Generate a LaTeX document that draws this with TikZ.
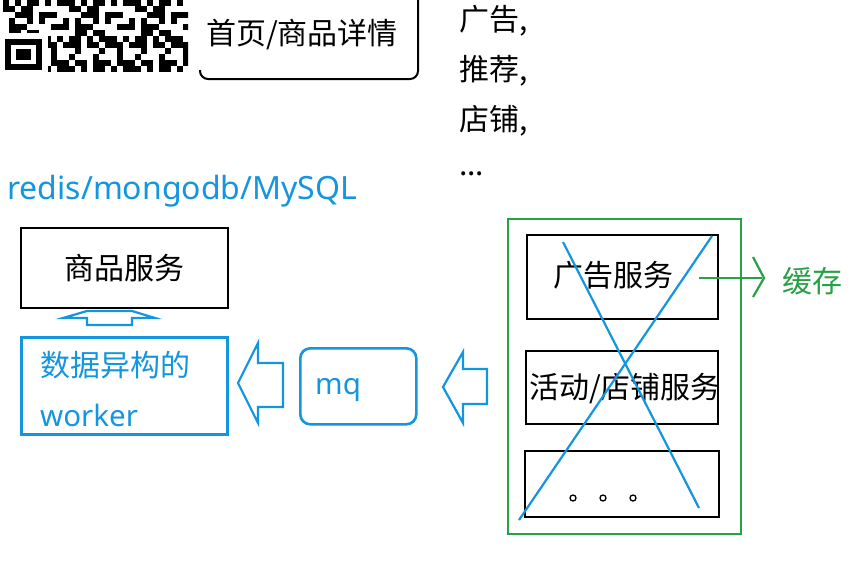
\documentclass[tikz,border=0pt]{standalone}
\usepackage{fontspec}
\setmainfont{Noto Sans CJK SC}
\newfontfamily\latinf{Noto Sans}
\definecolor{myblue}{RGB}{20,150,222}
\definecolor{mygreen}{RGB}{40,160,70}
\tikzset{
  txt/.style={font=\fontsize{30}{34}\selectfont, inner sep=0pt},
  ltxt/.style={font=\fontsize{29.5}{34}\selectfont\latinf, inner sep=0pt},
  blk/.style={draw=black, line width=2.4pt},
  bluebox/.style={draw=myblue, line width=2.6pt},
  hollow/.style={draw=myblue, line width=2.2pt, line join=miter},
}
\begin{document}
\begin{tikzpicture}[x=1pt,y=-1pt]
\useasboundingbox[fill=white] (0,0) rectangle (862,566);
% QR fragment
\begin{scope}
\clip (3,0) rectangle (188,72);
\foreach \i in {0,...,30}{
  \foreach \j in {0,...,11}{
    \pgfmathtruncatemacro\v{mod(\i*\i*7+\j*31+\i*\j*13+\j*\j*5+\i*3,11)}
    \ifnum\v<5 \fill (3+\i*6,\j*6) rectangle ++(6,6.2);\fi
  }
}
\fill[white] (0,33) rectangle (48,80);
\fill (5,39) rectangle (42,70);
\fill[white] (11,45) rectangle (36,64);
\fill (16,49) rectangle (31,60);
\end{scope}
% top box (partial)
\draw[line width=2pt, rounded corners=8pt] (200,70) |- (418,79) -- (418,-10);
\node[txt] (home) at (302,35) {首页/商品详情};
% list
\node[txt, anchor=west] (l1) at (459,21) {广告,};
\node[txt, anchor=west] (l2) at (459,71) {推荐,};
\node[txt, anchor=west] (l3) at (459,121) {店铺,};
\node[txt, anchor=west] (l4) at (459,174) {...};
% redis
\node[ltxt, font=\fontsize{32}{36}\selectfont\latinf, anchor=west, text=myblue] (db) at (7,191) {redis/mongodb/MySQL};
% product service
\node[blk, minimum width=207pt, minimum height=80pt, anchor=north west] (prod) at (20,227) {};
\node[txt] at (prod.center) {商品服务};
% up hollow arrow
\draw[hollow] (63,318) -- (87,311) -- (132,311) -- (155,318) -- (132,318) -- (132,325) -- (87,325) -- (87,318) -- cycle;
% worker
\node[bluebox, minimum width=206pt, minimum height=97pt, anchor=north west] (worker) at (20,336) {};
\node[txt, anchor=west, text=myblue] (w1) at (40,365) {数据异构的};
\node[ltxt, anchor=west, text=myblue] (w2) at (40,415) {worker};
% left arrow
\draw[hollow] (238,383) -- (258,343) -- (258,363) -- (283,363) -- (283,407) -- (258,407) -- (258,423) -- cycle;
% mq
\node[bluebox, rounded corners=10pt, minimum width=116pt, minimum height=76pt, anchor=north west] (mq) at (299,347) {};
\node[ltxt, text=myblue, anchor=west] (mqt) at (315,390) {mq};
% right arrow
\draw[hollow] (443,387) -- (463,352) -- (463,369) -- (487,369) -- (487,404) -- (463,404) -- (463,423) -- cycle;
% green container
\node[draw=mygreen, line width=2.4pt, minimum width=233pt, minimum height=315pt, anchor=north west] (grp) at (507,218) {};
\node[blk, minimum width=191pt, minimum height=84pt, anchor=north west] (ad) at (526,234) {};
\node[txt] at (613,275) {广告服务};
\node[blk, minimum width=192pt, minimum height=73pt, anchor=north west] (act) at (525,350) {};
\node[txt] at (625,389) {活动/店铺服务};
\node[blk, minimum width=194pt, minimum height=66pt, anchor=north west] (more) at (524,450) {};
\foreach \x in {573,603,633}{\draw[line width=1.3pt] (\x,498) circle (3pt);}
% blue X
\draw[myblue, line width=2.2pt] (563,242) -- (699,508);
\draw[myblue, line width=2.2pt] (712,236) -- (519,520);
% cache arrow
\coordinate (cs) at (699,278);
\node[txt, text=mygreen, anchor=west] (cache) at (782,281) {缓存};
\draw[mygreen, line width=2.2pt] (cs) -- (762,278);
\draw[mygreen, line width=2.2pt] (753,257) -- (764,278) -- (753,297);
\end{tikzpicture}
\end{document}
